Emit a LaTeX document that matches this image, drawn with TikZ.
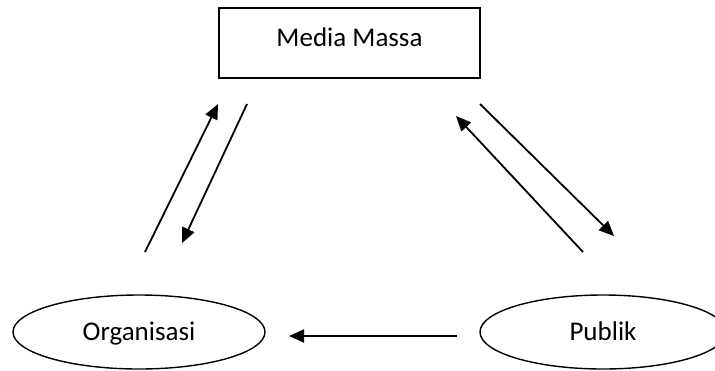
\documentclass[tikz,border=0pt]{standalone}
\usepackage{fontspec}
\setmainfont{Carlito}
\usetikzlibrary{arrows.meta,shapes.geometric}
\begin{document}
\begin{tikzpicture}[x=1bp,y=-1bp,
  lbl/.style={font=\fontsize{27bp}{30bp}\selectfont, text height=17bp, text depth=0bp, inner sep=0pt},
  boxnode/.style={draw, line width=1.5bp, rectangle, minimum width=261bp, minimum height=70bp, lbl, text depth=11bp},
  ellnode/.style={draw, line width=1.4bp, ellipse, minimum height=74bp, lbl},
  conn/.style={line width=1.8bp, -{Triangle[length=15bp,width=13bp]}}
]
\useasboundingbox (0,0) rectangle (715,370);
\begin{scope}
\clip (0,0) rectangle (715,370);
\node[boxnode] (media) at (349.5,43) {Media Massa};
\node[ellnode, minimum width=252bp] (org) at (139,332) {Organisasi};
\node[ellnode, minimum width=246bp] (pub) at (603,332) {Publik};
\end{scope}
% free ends of connectors
\coordinate (a1) at (145,252);
\coordinate (a2) at (218,104);
\coordinate (b1) at (247,104);
\coordinate (b2) at (182,243);
\coordinate (c1) at (480,104);
\coordinate (c2) at (614,236);
\coordinate (d1) at (583,252);
\coordinate (d2) at (456,116);
\coordinate (e1) at (457,336);
\coordinate (e2) at (289,336);
\draw[conn] (a1) -- (a2);
\draw[conn] (b1) -- (b2);
\draw[conn] (c1) -- (c2);
\draw[conn] (d1) -- (d2);
\draw[conn] (e1) -- (e2);
\end{tikzpicture}
\end{document}
